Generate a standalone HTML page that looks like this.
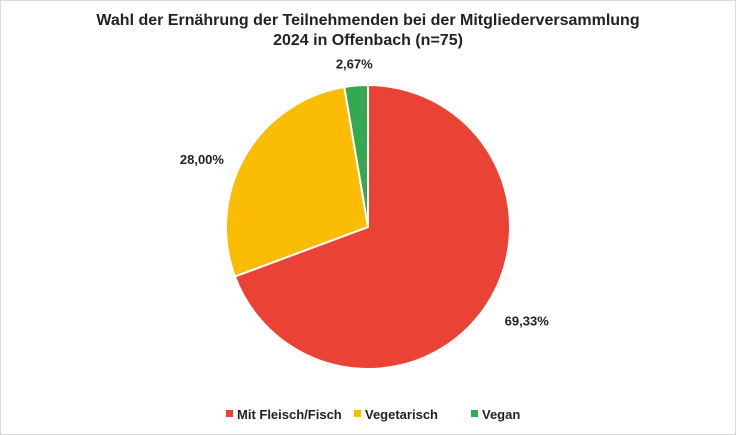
<!DOCTYPE html>
<html><head><meta charset="utf-8"><style>
html,body{margin:0;padding:0;background:#fff}
#c{position:relative;width:736px;height:435px;box-sizing:border-box;border:1px solid #d9d9d9;font-family:"Liberation Sans",Arial,sans-serif}
</style></head><body>
<div id="c">
<svg id="s" width="736" height="435" style="position:absolute;left:-1px;top:-1px">
<text x="368" y="25" text-anchor="middle" font-size="16" font-weight="bold" fill="#222">Wahl der Ernährung der Teilnehmenden bei der Mitgliederversammlung</text>
<text x="368" y="45" text-anchor="middle" font-size="16" font-weight="bold" fill="#222">2024 in Offenbach (n=75)</text>
<g id="slices"></g>
<g id="labels"></g>
<g id="legend"></g>
</svg>
</div>
<script>
const categories=["Mit Fleisch/Fisch","Vegetarisch","Vegan"];
const values=[52,21,2];
const labels=["69,33%","28,00%","2,67%"];
const colors=["#EA4335","#FBBC04","#34A853"];
const cx=368,cy=227,r=142,NS="http://www.w3.org/2000/svg";
const total=values.reduce((a,b)=>a+b,0);
const gS=document.getElementById('slices'),gL=document.getElementById('labels'),gG=document.getElementById('legend');
function pt(a,rr){return [cx+rr*Math.sin(a),cy-rr*Math.cos(a)];}
let acc=0;
values.forEach((v,i)=>{
  const a0=acc/total*2*Math.PI;acc+=v;const a1=acc/total*2*Math.PI;
  const p0=pt(a0,r),p1=pt(a1,r),large=(a1-a0)>Math.PI?1:0;
  const p=document.createElementNS(NS,'path');
  p.setAttribute('d',`M${cx},${cy}L${p0[0]},${p0[1]}A${r},${r} 0 ${large} 1 ${p1[0]},${p1[1]}Z`);
  p.setAttribute('fill',colors[i]);p.setAttribute('stroke','#fff');p.setAttribute('stroke-width','2');
  
  
  gS.appendChild(p);
  const am=(a0+a1)/2,lp=pt(am,r+22);
  const s=Math.sin(am);
  const t=document.createElementNS(NS,'text');
  t.setAttribute('x',lp[0]+(s>0.3?2:(s<-0.3?-2:0)));
  t.setAttribute('y',lp[1]+5+(s<-0.3?14:0));
  t.setAttribute('text-anchor',s>0.3?'start':(s<-0.3?'end':'middle'));
  t.setAttribute('font-size','13');t.setAttribute('font-weight','bold');t.setAttribute('fill','#222');
  t.textContent=labels[i];
  
  
  gL.appendChild(t);
});
const lx=[226,354,471];
categories.forEach((c,i)=>{
  const g=document.createElementNS(NS,'g');
  
  
  const rc=document.createElementNS(NS,'rect');
  rc.setAttribute('x',lx[i]);rc.setAttribute('y',410);rc.setAttribute('width',7);rc.setAttribute('height',7);rc.setAttribute('fill',colors[i]);
  const t=document.createElementNS(NS,'text');
  t.setAttribute('x',lx[i]+11);t.setAttribute('y',419);t.setAttribute('font-size','13');t.setAttribute('font-weight','bold');t.setAttribute('fill','#222');
  t.textContent=c;
  g.appendChild(rc);g.appendChild(t);gG.appendChild(g);
});
</script>
</body></html>
